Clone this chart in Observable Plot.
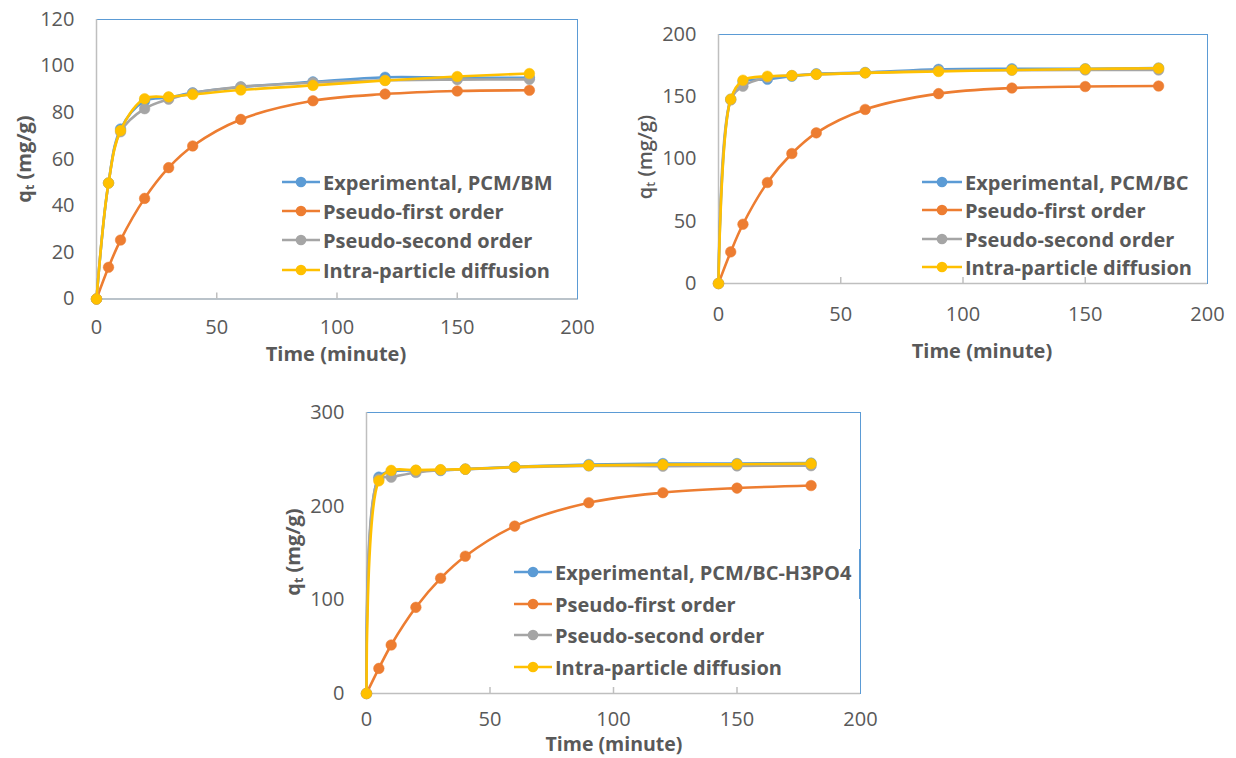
<!DOCTYPE html>
<html>
<head>
<meta charset="utf-8">
<script src="https://cdn.jsdelivr.net/npm/d3@7"></script>
<script src="https://cdn.jsdelivr.net/npm/@observablehq/plot@0.6"></script>
<style>
  body { margin: 0; background: #fff; }
  #root { position: relative; width: 1236px; height: 758px; overflow: hidden; font-family: "Open Sans", sans-serif; color: #595959; }
  .panel { position: absolute; }
  .title { position: absolute; font-weight: 700; font-size: 20px; white-space: nowrap; line-height: 16px; transform: translate(-50%, -50%); }
  .ytitle { transform: translate(-50%, -50%) rotate(-90deg); }
  .ytitle sub { font-size: 0.62em; vertical-align: -0.25em; line-height: 0; }
  .lrow { position: absolute; display: flex; align-items: center; height: 24px; font-weight: 700; font-size: 20px; white-space: nowrap; }
  .lrow svg { display: block; margin-right: 3px; }
  .mark { position: absolute; background: #5B9BD5; }
</style>
</head>
<body>
<div id="root"></div>
<script>
// ---- data ----
const time = [0, 5, 10, 20, 30, 40, 60, 90, 120, 150, 180];
const seriesColors = ["#5B9BD5", "#ED7D31", "#A5A5A5", "#FFC000"];
const modelNames = ["Pseudo-first order", "Pseudo-second order", "Intra-particle diffusion"];
const xTicks = [0, 50, 100, 150, 200];

// PCM/BM
const bmExperimental = [0, 49.8, 73, 85, 86.5, 88.5, 91, 93.2, 95.2, 95, 95];
const bmPseudoFirst  = [0, 13.6, 25.3, 43.2, 56.4, 65.7, 77.1, 85.1, 88, 89.3, 89.6];
const bmPseudoSecond = [0, 49.8, 71.8, 81.7, 85.8, 88.4, 91.1, 92.9, 93.9, 94.2, 94.3];
const bmIntra        = [0, 49.8, 72.3, 86, 86.8, 87.8, 89.7, 91.7, 93.8, 95.5, 96.8];
const bmYTicks = [0, 20, 40, 60, 80, 100, 120];

// PCM/BC
const bcExperimental = [0, 148, 162, 164, 166.5, 168.5, 169.5, 172, 172.5, 172.5, 173];
const bcPseudoFirst  = [0, 25.4, 47.6, 81.1, 104.4, 121, 139.8, 152.5, 157, 158.2, 158.6];
const bcPseudoSecond = [0, 147.4, 158.5, 165.5, 167, 168, 169.2, 171, 171.3, 171.5, 171.5];
const bcIntra        = [0, 148, 163.3, 166.5, 167, 168, 169.2, 170.3, 171.5, 172.3, 172.9];
const bcYTicks = [0, 50, 100, 150, 200];

// PCM/BC-H3PO4
const hpExperimental = [0, 231, 237, 238, 238, 239.5, 242, 244.5, 245.5, 245.5, 246];
const hpPseudoFirst  = [0, 26.8, 51.8, 92, 123, 146.6, 178.7, 203.7, 214.4, 219.3, 222];
const hpPseudoSecond = [0, 229, 231, 236, 238.5, 239.5, 241.5, 243, 242.7, 243, 243.2];
const hpIntra        = [0, 227, 238.2, 238.5, 239, 239.5, 241.8, 243.5, 244.3, 244.8, 245.4];
const hpYTicks = [0, 100, 200, 300];

// ---- layout ----
const panels = [
  { name: "Experimental, PCM/BM", series: [bmExperimental, bmPseudoFirst, bmPseudoSecond, bmIntra], yTicks: bmYTicks,
    left: 0, top: 0, width: 600, height: 370, mL: 96, mR: 23, mT: 19, mB: 71.5, xPad: 21,
    xTitle: [336, 353.5], xTitleSize: 20, yTitle: [24, 159], yWeight: 700,
    legend: { x: 282, lineW: 38, rows: [182, 211, 240, 270] } },
  { name: "Experimental, PCM/BC", series: [bcExperimental, bcPseudoFirst, bcPseudoSecond, bcIntra], yTicks: bcYTicks,
    left: 620, top: 0, width: 616, height: 370, mL: 98, mR: 29, mT: 34, mB: 87, xPad: 23,
    xTitle: [982, 351], xTitleSize: 20, yTitle: [645, 157], yWeight: 600,
    legend: { x: 922, lineW: 40, rows: [182, 210, 239, 267] } },
  { name: "Experimental, PCM/BC-H3PO4", series: [hpExperimental, hpPseudoFirst, hpPseudoSecond, hpIntra], yTicks: hpYTicks,
    left: 290, top: 395, width: 600, height: 363, mL: 76, mR: 30, mT: 17, mB: 65, xPad: 18,
    xTitle: [614, 744.3], xTitleSize: 19.5, yTitle: [293, 552], yWeight: 700,
    legend: { x: 514, lineW: 38, rows: [572, 604, 635, 667] } }
];

const root = document.getElementById("root");
const axisGray = "#BFBFBF";
const borderBlue = "#5B9BD5";

for (const p of panels) {
  const names = [p.name, ...modelNames];
  const marks = [
    Plot.frame({ stroke: borderBlue, strokeWidth: 1 }),
    Plot.ruleX([0], { stroke: axisGray, strokeWidth: 1.5 }),
    Plot.ruleY([0], { stroke: axisGray, strokeWidth: 1.5 }),
    Plot.ruleX(xTicks.slice(1, -1), { y1: 0, insetTop: -6, stroke: axisGray, strokeWidth: 1.5 }),
    Plot.axisX({ ticks: xTicks, tickSize: 0, tickPadding: p.xPad, label: null, tickFormat: d3.format("d") }),
    Plot.axisY({ ticks: p.yTicks, tickSize: 0, tickPadding: 22, label: null, tickFormat: d3.format("d") })
  ];
  p.series.forEach((vals, si) => {
    const rows = time.map((t, i) => ({ t, q: vals[i] }));
    marks.push(Plot.line(rows, { x: "t", y: "q", stroke: seriesColors[si], strokeWidth: 2.6, curve: "catmull-rom" }));
    marks.push(Plot.dot(rows, { x: "t", y: "q", r: 5.3, fill: seriesColors[si], stroke: seriesColors[si], strokeWidth: 0.5 }));
  });
  const chart = Plot.plot({
    width: p.width, height: p.height,
    marginLeft: p.mL, marginRight: p.mR, marginTop: p.mT, marginBottom: p.mB,
    x: { domain: [0, 200] },
    y: { domain: [0, p.yTicks[p.yTicks.length - 1]] },
    style: { fontFamily: "'Open Sans', sans-serif", fontSize: "20px", color: "#595959", background: "transparent", overflow: "visible" },
    marks
  });
  chart.classList.add("panel");
  chart.style.left = p.left + "px";
  chart.style.top = p.top + "px";
  root.appendChild(chart);

  const xt = document.createElement("div");
  xt.className = "title";
  xt.textContent = "Time (minute)";
  xt.style.left = p.xTitle[0] + "px";
  xt.style.top = p.xTitle[1] + "px";
  xt.style.fontSize = p.xTitleSize + "px";
  root.appendChild(xt);

  const yt = document.createElement("div");
  yt.className = "title ytitle";
  yt.innerHTML = "q<sub>t</sub> (mg/g)";
  yt.style.left = p.yTitle[0] + "px";
  yt.style.top = p.yTitle[1] + "px";
  yt.style.fontWeight = p.yWeight;
  root.appendChild(yt);

  names.forEach((nm, si) => {
    const row = document.createElement("div");
    row.className = "lrow";
    row.style.left = p.legend.x + "px";
    row.style.top = (p.legend.rows[si] - 12) + "px";
    const w = p.legend.lineW;
    row.innerHTML = `<svg width="${w}" height="14"><line x1="0" x2="${w}" y1="7" y2="7" stroke="${seriesColors[si]}" stroke-width="2.6"/><circle cx="${w / 2}" cy="7" r="5.3" fill="${seriesColors[si]}"/></svg><span>${nm}</span>`;
    root.appendChild(row);
  });
}

// thicker segment on the third panel's right border, as in the reference
const seg = document.createElement("div");
seg.className = "mark";
seg.style.left = "859px"; seg.style.top = "549px"; seg.style.width = "2px"; seg.style.height = "50px";
root.appendChild(seg);
</script>
</body>
</html>
